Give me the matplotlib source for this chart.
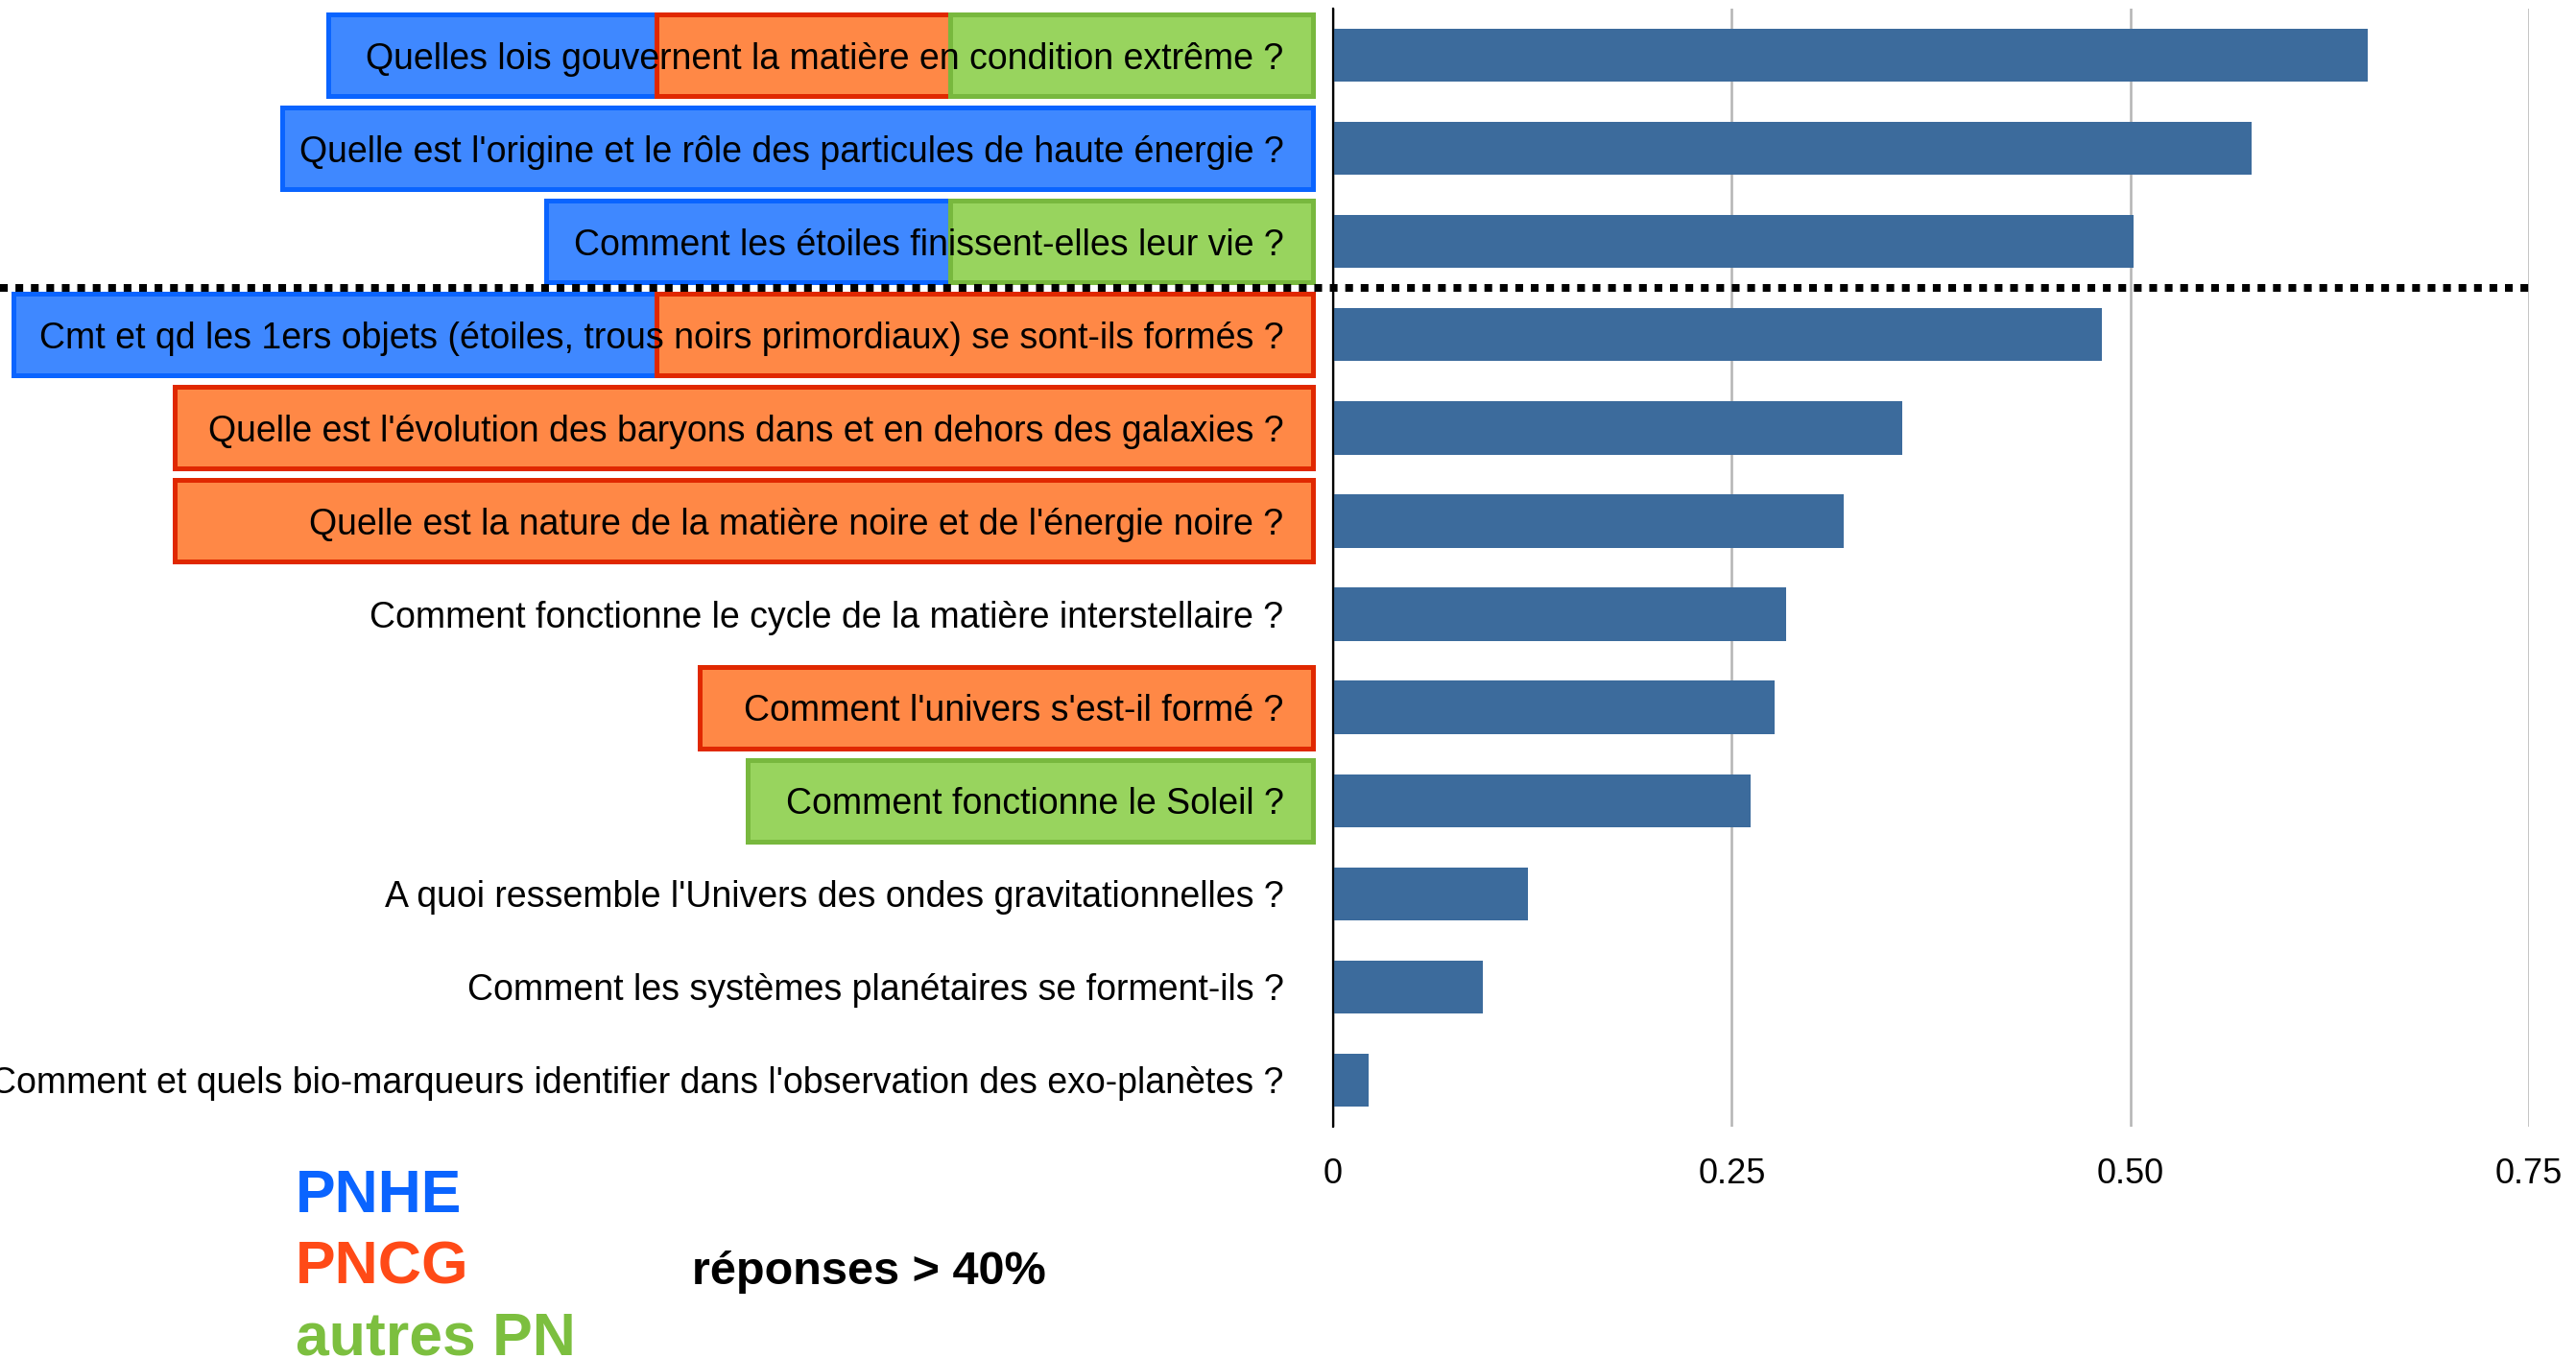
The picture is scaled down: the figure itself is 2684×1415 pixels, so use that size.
import matplotlib
matplotlib.use("Agg")
import matplotlib.pyplot as plt
import matplotlib.transforms as mtransforms
from matplotlib.patches import Rectangle
from matplotlib.lines import Line2D

# data, top to bottom
questions = [
    "Quelles lois gouvernent la matière en condition extrême ?",
    "Quelle est l'origine et le rôle des particules de haute énergie ?",
    "Comment les étoiles finissent-elles leur vie ?",
    "Cmt et qd les 1ers objets (étoiles, trous noirs primordiaux) se sont-ils formés ?",
    "Quelle est l'évolution des baryons dans et en dehors des galaxies ?",
    "Quelle est la nature de la matière noire et de l'énergie noire ?",
    "Comment fonctionne le cycle de la matière interstellaire ?",
    "Comment l'univers s'est-il formé ?",
    "Comment fonctionne le Soleil ?",
    "A quoi ressemble l'Univers des ondes gravitationnelles ?",
    "Comment les systèmes planétaires se forment-ils ?",
    "Comment et quels bio-marqueurs identifier dans l'observation des exo-planètes ?",
]
scores = [0.649, 0.576, 0.502, 0.482, 0.357, 0.320, 0.284, 0.277, 0.262, 0.122, 0.094, 0.022]
programmes = [
    ["PNHE", "PNCG", "autres PN"],
    ["PNHE"],
    ["PNHE", "autres PN"],
    ["PNHE", "PNCG"],
    ["PNCG"],
    ["PNCG"],
    [],
    ["PNCG"],
    ["autres PN"],
    [],
    [],
    [],
]
x_ticks = [0, 0.25, 0.50, 0.75]
x_tick_labels = ["0", "0.25", "0.50", "0.75"]
legend_names = ["PNHE", "PNCG", "autres PN"]
threshold_note = "réponses > 40%"

# layout (pixels of a 2684x1415 canvas)
W, H = 2684, 1415
box_left = [342, 294, 569, 14, 182, 182, None, 729, 779, None, None, None]
col_start = {"PNCG": 684, "autres PN": 990}
box_right = 1368
fill = {"PNHE": "#3f88ff", "PNCG": "#ff8846", "autres PN": "#98d45e"}
edge = {"PNHE": "#0a64ff", "PNCG": "#e02800", "autres PN": "#78b83e"}
legend_col = {"PNHE": "#0a64ff", "PNCG": "#ff4a17", "autres PN": "#7cbf3f"}

plt.rcParams['font.family'] = ['Liberation Sans', 'DejaVu Sans']

fig = plt.figure(figsize=(W / 100, H / 100), dpi=100)
ax = fig.add_axes([1389 / W, 1 - 1174 / H, (2635 - 1389) / W, (1174 - 9) / H])
ax.patch.set_visible(False)

ypos = list(range(len(questions)))
ax.barh(ypos, scores, height=0.57, color="#3c6b9c", zorder=2)
ax.set_ylim(len(questions) - 0.5, -0.5)
ax.set_xlim(0, 0.75)
ax.set_xticks(x_ticks)
ax.set_xticklabels(x_tick_labels, fontsize=26)
ax.set_yticks(ypos)
ax.set_yticklabels(questions, fontsize=27)
ax.tick_params(axis="y", length=0, pad=37)
ax.tick_params(axis="x", length=0, pad=23)
ax.xaxis.grid(True, color="#b4b4b4", linewidth=1.8, zorder=0)
ax.set_axisbelow(True)
for s in ["top", "right", "bottom"]:
    ax.spines[s].set_visible(False)
ax.spines["left"].set_linewidth(1.6)
ax.spines["left"].set_zorder(3)

# coloured boxes behind the question labels
blend = mtransforms.blended_transform_factory(fig.transFigure, ax.transData)
bh = 85 / 97.1
for i, progs in enumerate(programmes):
    if not progs:
        continue
    starts = [box_left[i]] + [col_start[p] for p in progs[1:]]
    ends = starts[1:] + [box_right]
    for p, x0, x1 in zip(progs, starts, ends):
        r = Rectangle((x0 / W, i - bh / 2), (x1 - x0) / W, bh, transform=blend,
                      facecolor=fill[p], edgecolor=edge[p], linewidth=3.6, zorder=-1)
        fig.add_artist(r)

# dotted separator between the top three and the rest
fig.add_artist(Line2D([0, 2635 / W], [2.5, 2.5], transform=blend, color="black",
                      linewidth=5.8, linestyle=(0, (1, 1)), dash_capstyle="butt", zorder=5))

# legend text
baselines = [1263, 1338, 1412]
for name, b in zip(legend_names, baselines):
    fig.text(308 / W, 1 - b / H, name, color=legend_col[name], fontsize=45,
             fontweight="bold", va="baseline", ha="left")
fig.text(721 / W, 1 - 1338 / H, threshold_note, color="black", fontsize=35,
         fontweight="bold", va="baseline", ha="left")

fig.savefig("out.png", dpi=100)
